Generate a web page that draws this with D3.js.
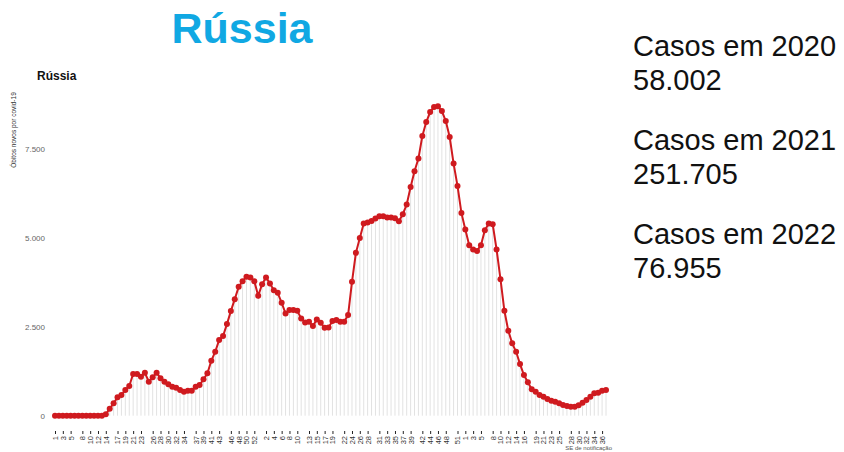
<!DOCTYPE html>
<html>
<head>
<meta charset="utf-8">
<style>
  body { margin: 0; background: #fff; }
  svg { display: block; font-family: "Liberation Sans", Arial, sans-serif; }
</style>
<script src="https://d3js.org/d3.v7.min.js"></script>
</head>
<body>
<script>
  // weekly new deaths, Russia, by epidemiological week
  var deaths2020 = [0, 0, 0, 0, 0, 0, 0, 0, 0, 0, 0, 0, 0, 40, 197, 348, 517, 581, 722, 834,
    1171, 1171, 1096, 1208, 955, 1078, 1208, 1050, 955, 882, 815, 787, 722, 674, 702, 702,
    815, 862, 1022, 1191, 1545, 1798, 2126, 2239, 2576, 2941, 3278, 3624, 3784, 3905, 3888,
    3784, 3371];
  var deaths2021 = [3700, 3888, 3719, 3531, 3455, 3174, 2876, 2969, 2969, 2950, 2736, 2624,
    2641, 2520, 2708, 2612, 2472, 2483, 2660, 2688, 2641, 2641, 2829, 3764, 4579, 5000, 5404,
    5432, 5477, 5545, 5610, 5610, 5573, 5573, 5550, 5469, 5666, 5938, 6433, 6874, 7230, 7865,
    8259, 8539, 8680, 8699, 8567, 8287, 7837, 7090, 6461, 5702];
  var deaths2022 = [5236, 4795, 4674, 4635, 4795, 5216, 5404, 5385, 4674, 3840, 2950, 2388,
    2034, 1798, 1452, 1143, 938, 742, 674, 581, 534, 469, 421, 393, 348, 301, 272, 253, 253,
    292, 365, 441, 534, 629, 646, 702, 722];

  var yTicks = [0, 2500, 5000, 7500];
  var yearLabels = ["Casos em 2020", "Casos em 2021", "Casos em 2022"];
  var yearTotals = ["58.002", "251.705", "76.955"];

  // one category per week: week number shown on the axis
  var weeks = [];
  [deaths2020, deaths2021, deaths2022].forEach(function (arr, y) {
    arr.forEach(function (v, i) {
      weeks.push({ key: y + "-" + (i + 1), week: i + 1, value: v });
    });
  });

  var width = 844, height = 452;
  var red = "#cf1a1f";

  var svg = d3.select("body").append("svg")
    .attr("width", width)
    .attr("height", height);

  var x = d3.scalePoint()
    .domain(weeks.map(function (d) { return d.key; }))
    .range([55, 606]);

  var y = d3.scaleLinear()
    .domain([0, 7500])
    .range([415.7, 149]);

  // big title
  svg.append("text")
    .attr("x", 242).attr("y", 43)
    .attr("text-anchor", "middle")
    .attr("font-size", 43).attr("font-weight", "bold")
    .attr("fill", "#10a8e3")
    .text("Rússia");

  // chart title
  svg.append("text")
    .attr("x", 37).attr("y", 80)
    .attr("font-size", 12).attr("font-weight", "bold")
    .attr("fill", "#111")
    .text("Rússia");

  // y title
  svg.append("text")
    .attr("transform", "translate(16,130) rotate(-90)")
    .attr("text-anchor", "middle")
    .attr("font-size", 6.5).attr("fill", "#333")
    .text("Óbitos novos por covid-19");

  // y tick labels
  svg.selectAll(".ytick")
    .data(yTicks)
    .enter().append("text")
    .attr("class", "ytick")
    .attr("x", 45)
    .attr("y", function (d) { return y(d) + 3; })
    .attr("text-anchor", "end")
    .attr("font-size", 8).attr("fill", "#666")
    .text(function (d) { return d3.format(",")(d).replace(/,/g, "."); });

  // drop lines
  svg.selectAll(".drop")
    .data(weeks)
    .enter().append("line")
    .attr("class", "drop")
    .attr("x1", function (d) { return x(d.key); })
    .attr("x2", function (d) { return x(d.key); })
    .attr("y1", y(0))
    .attr("y2", function (d) { return y(d.value); })
    .attr("stroke", "#e2e2e2")
    .attr("stroke-width", 1);

  var line = d3.line()
    .x(function (d) { return x(d.key); })
    .y(function (d) { return y(d.value); });

  svg.append("path")
    .datum(weeks)
    .attr("d", line)
    .attr("fill", "none")
    .attr("stroke", red)
    .attr("stroke-width", 2);

  svg.selectAll(".pt")
    .data(weeks)
    .enter().append("circle")
    .attr("class", "pt")
    .attr("cx", function (d) { return x(d.key); })
    .attr("cy", function (d) { return y(d.value); })
    .attr("r", 3)
    .attr("fill", red);

  // x axis, thinned week labels
  var step = 2.23;
  var tickKeys = d3.range(0, weeks.length, step).map(function (k) {
    return weeks[Math.round(k)].key;
  });
  var weekOf = {};
  weeks.forEach(function (d) { weekOf[d.key] = d.week; });

  var xAxis = svg.append("g")
    .attr("transform", "translate(0,431)")
    .call(d3.axisBottom(x)
      .tickValues(tickKeys)
      .tickSize(3)
      .tickFormat(function (k) { return weekOf[k]; }));
  xAxis.select(".domain").remove();
  xAxis.selectAll("line").attr("stroke", "#222");
  xAxis.selectAll("text")
    .attr("transform", "rotate(-90)")
    .attr("text-anchor", "end")
    .attr("x", -5).attr("y", 0).attr("dy", "0.32em")
    .attr("font-size", 7.5)
    .attr("font-family", "Liberation Sans, Arial, sans-serif")
    .attr("fill", "#333");

  svg.append("text")
    .attr("x", 612).attr("y", 450)
    .attr("text-anchor", "end")
    .attr("font-size", 6).attr("fill", "#555")
    .text("SE de notificação");

  // yearly totals on the right
  yearLabels.forEach(function (lab, i) {
    svg.append("text")
      .attr("x", 633).attr("y", 56 + i * 94)
      .attr("font-size", 29).attr("fill", "#111")
      .text(lab);
    svg.append("text")
      .attr("x", 633).attr("y", 90 + i * 94)
      .attr("font-size", 29).attr("fill", "#111")
      .text(yearTotals[i]);
  });
</script>
</body>
</html>
